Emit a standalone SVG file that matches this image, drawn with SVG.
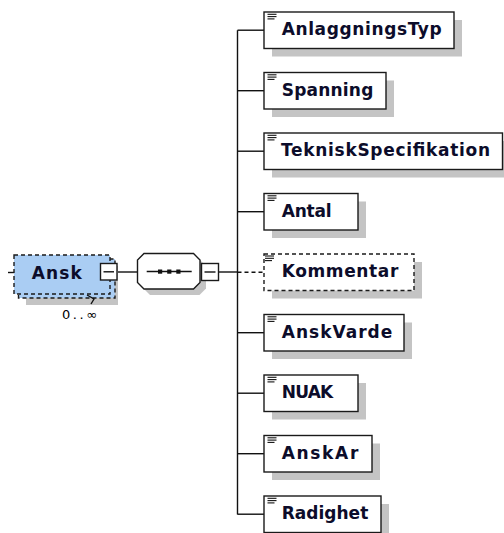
<svg xmlns="http://www.w3.org/2000/svg" width="504" height="533" viewBox="0 0 504 533">
<style>
  .bg{fill:#fff}
  .shadow{fill:#c4c4c4;stroke:none}
  .box{fill:#fff;stroke:#1a1a1a;stroke-width:1.4}
  .opt{fill:#fff;stroke:#1a1a1a;stroke-width:1.4;stroke-dasharray:4 3}
  .root{fill:#aacdf3;stroke:#1a1a1a;stroke-width:1.4;stroke-dasharray:4 3}
  .lbl{font-family:"DejaVu Sans",Verdana,sans-serif;font-weight:bold;font-size:17px;fill:#0c0c2a}
  .occ{font-family:"DejaVu Sans",sans-serif;font-size:13px;fill:#000}
  .ln{stroke:#111;stroke-width:1.4;fill:none}
  .dash{stroke:#111;stroke-width:1.4;fill:none;stroke-dasharray:4 3}
  .ico{stroke:#111;stroke-width:1.1}
  .dot{fill:#111}
</style>
<defs>
  <g id="icon">
    <line class="ico" x1="0" y1="0" x2="9" y2="0"/>
    <line class="ico" x1="0" y1="2.3" x2="9" y2="2.3"/>
    <line class="ico" x1="0" y1="4.6" x2="7" y2="4.6"/>
  </g>
</defs>
<rect class="bg" x="0" y="0" width="504" height="533"/>

<g id="connectors">
  <line class="ln" x1="8" y1="272.5" x2="14" y2="272.5"/>
  <line class="ln" x1="117" y1="272" x2="137.5" y2="272"/>
  <line class="ln" x1="218.5" y1="272" x2="237.5" y2="272"/>
  <line class="ln" x1="237.5" y1="30.2" x2="237.5" y2="514.5"/>
  <line class="ln" x1="237.5" y1="30.2" x2="264" y2="30.2"/>
  <line class="ln" x1="237.5" y1="90.7" x2="264" y2="90.7"/>
  <line class="ln" x1="237.5" y1="151.2" x2="264" y2="151.2"/>
  <line class="ln" x1="237.5" y1="211.7" x2="264" y2="211.7"/>
  <line class="dash" x1="237.5" y1="272.2" x2="264" y2="272.2"/>
  <line class="ln" x1="237.5" y1="332.7" x2="264" y2="332.7"/>
  <line class="ln" x1="237.5" y1="393.2" x2="264" y2="393.2"/>
  <line class="ln" x1="237.5" y1="453.7" x2="264" y2="453.7"/>
  <line class="ln" x1="237.5" y1="514.2" x2="264" y2="514.2"/>
</g>

<g id="Ansk">
  <rect class="shadow" x="26" y="266" width="92" height="39"/>
  <rect class="root" x="18.5" y="259" width="96.5" height="39"/>
  <rect class="root" x="14" y="255" width="96" height="39"/>
  <polyline class="ln" points="87,295 94,299 91,304" stroke-width="1"/>
  <text class="lbl" x="31.7" y="278.5" textLength="50" lengthAdjust="spacing">Ansk</text>
  <rect class="box" x="100.5" y="263.5" width="16.5" height="16.5"/>
  <line class="ln" x1="103.5" y1="271.8" x2="114" y2="271.8"/>
  <text class="occ" x="62" y="319" textLength="35" lengthAdjust="spacing">0..∞</text>
</g>

<g id="sequence">
  <polygon class="shadow" points="150,259.5 199.5,259.5 206,266 206,288.5 199.5,295 150,295 143.5,288.5 143.5,266"/>
  <polygon class="box" points="144,253.5 193.5,253.5 200,260 200,282.5 193.5,289 144,289 137.5,282.5 137.5,260"/>
  <line class="ln" x1="146.7" y1="271.5" x2="191.7" y2="271.5"/>
  <rect class="dot" x="158" y="269.5" width="4.2" height="4.2"/>
  <rect class="dot" x="167.2" y="269.5" width="4.2" height="4.2"/>
  <rect class="dot" x="176.3" y="269.5" width="4.2" height="4.2"/>
  <rect class="box" x="201.5" y="263.5" width="17" height="17"/>
  <line class="ln" x1="204.5" y1="272" x2="215.5" y2="272"/>
</g>

<g id="AnlaggningsTyp">
  <rect class="shadow" x="272" y="20" width="190" height="36.5"/>
  <rect class="box" x="264" y="12" width="190" height="36.5"/>
  <use href="#icon" x="267.5" y="14.3"/>
  <text class="lbl" x="281.7" y="35.2" textLength="160" lengthAdjust="spacing">AnlaggningsTyp</text>
</g>

<g id="Spanning">
  <rect class="shadow" x="272" y="80.5" width="122" height="36.5"/>
  <rect class="box" x="264" y="72.5" width="122" height="36.5"/>
  <use href="#icon" x="267.5" y="74.8"/>
  <text class="lbl" x="281.7" y="95.7" textLength="91.6" lengthAdjust="spacing">Spanning</text>
</g>

<g id="TekniskSpecifikation">
  <rect class="shadow" x="272" y="141" width="238.5" height="36.5"/>
  <rect class="box" x="264" y="133" width="238.5" height="36.5"/>
  <use href="#icon" x="267.5" y="135.3"/>
  <text class="lbl" x="281" y="156.2" textLength="209" lengthAdjust="spacing">TekniskSpecifikation</text>
</g>

<g id="Antal">
  <rect class="shadow" x="272" y="201.5" width="94" height="36.5"/>
  <rect class="box" x="264" y="193.5" width="94" height="36.5"/>
  <use href="#icon" x="267.5" y="195.8"/>
  <text class="lbl" x="281.7" y="216.7" textLength="50" lengthAdjust="spacing">Antal</text>
</g>

<g id="Kommentar">
  <rect class="shadow" x="272" y="262" width="150" height="36.5"/>
  <rect class="opt" x="264" y="254" width="150" height="36.5"/>
  <use href="#icon" x="265" y="256"/>
  <text class="lbl" x="281.7" y="277.2" textLength="116.6" lengthAdjust="spacing">Kommentar</text>
</g>

<g id="AnskVarde">
  <rect class="shadow" x="272" y="322.5" width="140" height="36.5"/>
  <rect class="box" x="264" y="314.5" width="140" height="36.5"/>
  <use href="#icon" x="267.5" y="316.8"/>
  <text class="lbl" x="281.7" y="337.7" textLength="110.6" lengthAdjust="spacing">AnskVarde</text>
</g>

<g id="NUAK">
  <rect class="shadow" x="272" y="383" width="94" height="36.5"/>
  <rect class="box" x="264" y="375" width="94" height="36.5"/>
  <use href="#icon" x="267.5" y="377.3"/>
  <text class="lbl" x="281.7" y="398.2" textLength="51.6" lengthAdjust="spacing">NUAK</text>
</g>

<g id="AnskAr">
  <rect class="shadow" x="272" y="443.5" width="108" height="36.5"/>
  <rect class="box" x="264" y="435.5" width="108" height="36.5"/>
  <use href="#icon" x="267.5" y="437.8"/>
  <text class="lbl" x="281.7" y="458.7" textLength="76.6" lengthAdjust="spacing">AnskAr</text>
</g>

<g id="Radighet">
  <rect class="shadow" x="272" y="504" width="117" height="36.5"/>
  <rect class="box" x="264" y="496" width="117" height="36.5"/>
  <use href="#icon" x="267.5" y="498.3"/>
  <text class="lbl" x="281.7" y="519.2" textLength="86.6" lengthAdjust="spacing">Radighet</text>
</g>
</svg>
